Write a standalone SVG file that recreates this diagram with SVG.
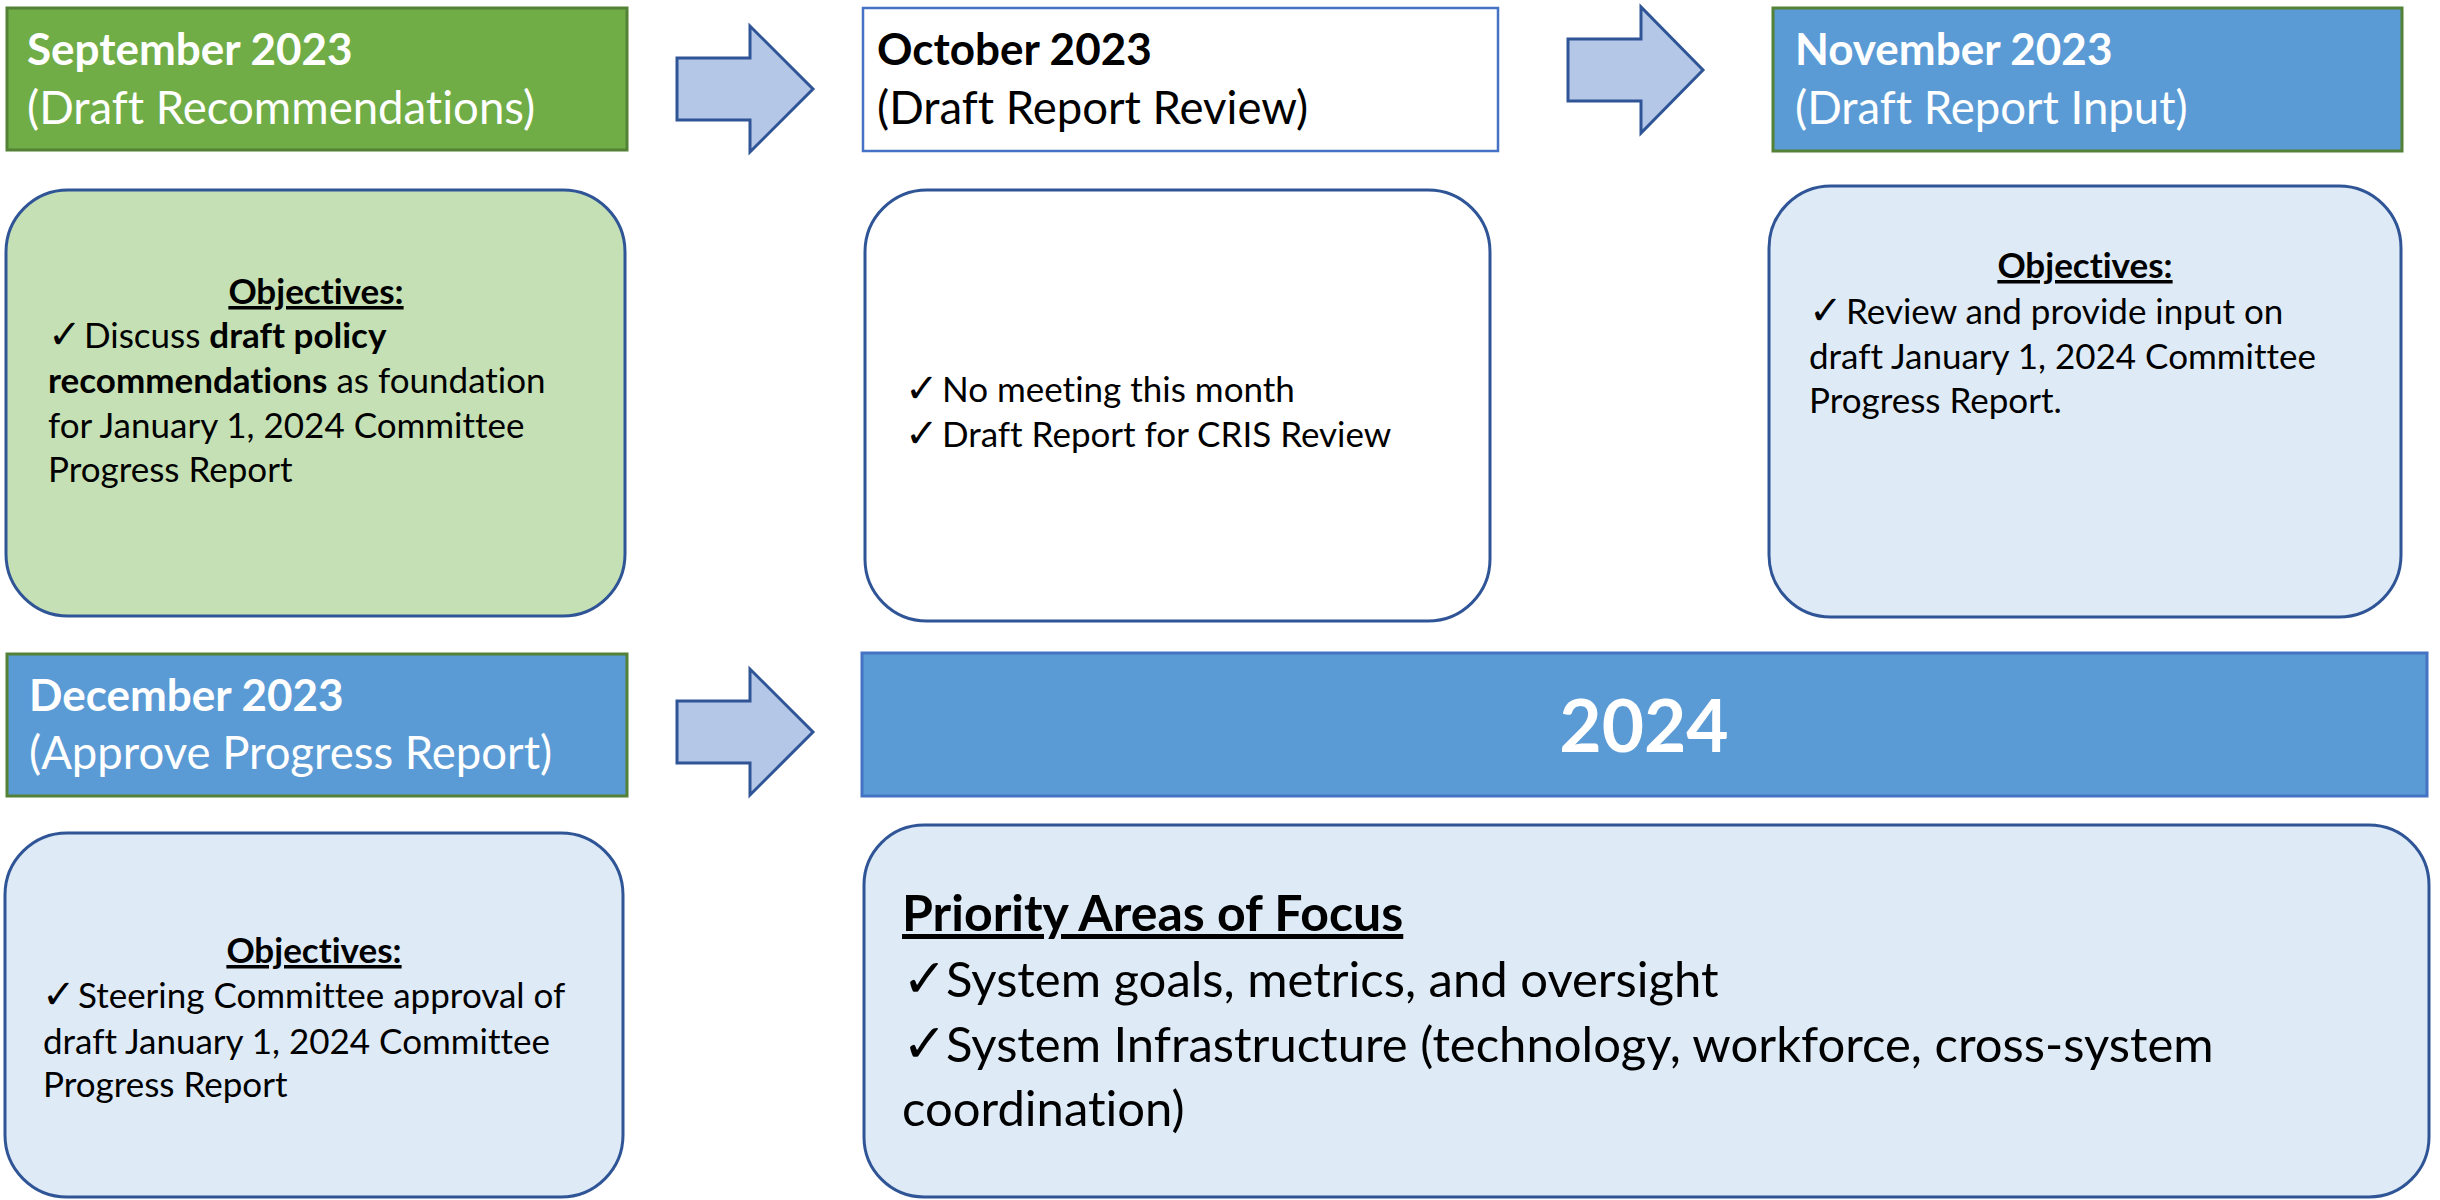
<svg xmlns="http://www.w3.org/2000/svg" width="2440" height="1200" viewBox="0 0 2440 1200">
<style>
  .t { font-family: Lato, "Open Sans", sans-serif; font-variant-ligatures: none; font-feature-settings: "liga" 0, "clig" 0; }
  .hd { font-size: 45.5px; fill: #ffffff; }
  .hdk { font-size: 45.5px; fill: #000000; }
  .b { font-weight: bold; }
  .hb { font-size: 44px; }
  .body { font-size: 35px; fill: #000000; }
  .obj { font-size: 35px; font-weight: bold; text-decoration: underline; fill: #000000; }
  .ck { font-family: "DejaVu Sans", sans-serif; font-size: 40px; }
  .ckl { font-family: "DejaVu Sans", sans-serif; font-size: 54px; }
  .greenhd { fill: #70AD47; stroke: #538135; stroke-width: 3; }
  .bluehd { fill: #5B9BD5; stroke: #538135; stroke-width: 3; }
  .whitehd { fill: #ffffff; stroke: #4472C4; stroke-width: 2.5; }
  .yearhd { fill: #5B9BD5; stroke: #4472C4; stroke-width: 3; }
  .card { stroke: #2F5597; stroke-width: 3; }
  .arrow { fill: #B4C7E7; stroke: #2F5597; stroke-width: 3; stroke-linejoin: miter; }
</style>

<g id="connectors">
  <path class="arrow" d="M677,58 L750,58 L750,26 L813,89 L750,152 L750,120 L677,120 Z"/>
  <path class="arrow" d="M1568,39 L1641,39 L1641,7 L1703,70 L1641,133 L1641,101 L1568,101 Z"/>
  <path class="arrow" d="M677,701 L750,701 L750,669 L813,732 L750,795 L750,763 L677,763 Z"/>
</g>

<g id="sep-header">
  <rect class="greenhd" x="7" y="8" width="620" height="142"/>
  <text class="t hd b hb" x="27" y="65">September 2023</text>
  <text class="t hd" x="27" y="124">(Draft Recommendations)</text>
</g>

<g id="oct-header">
  <rect class="whitehd" x="863" y="8" width="635" height="143"/>
  <text class="t hdk b hb" x="877" y="65">October 2023</text>
  <text class="t hdk" x="877" y="124">(Draft Report Review)</text>
</g>

<g id="nov-header">
  <rect class="bluehd" x="1773" y="8" width="629" height="143"/>
  <text class="t hd b hb" x="1795" y="65">November 2023</text>
  <text class="t hd" x="1795" y="124">(Draft Report Input)</text>
</g>

<g id="sep-body">
  <rect class="card" x="6" y="190" width="619" height="426" rx="62" ry="62" fill="#C5E0B4"/>
  <text class="t obj" x="316" y="304" text-anchor="middle">Objectives:</text>
  <text class="t body" y="348"><tspan class="ck" x="48">✓</tspan><tspan x="84">Discuss </tspan><tspan class="b">draft policy</tspan></text>
  <text class="t body" x="48" y="393"><tspan class="b">recommendations</tspan> as foundation</text>
  <text class="t body" x="48" y="438">for January 1, 2024 Committee</text>
  <text class="t body" x="48" y="482">Progress Report</text>
</g>

<g id="oct-body">
  <rect class="card" x="865" y="190" width="625" height="431" rx="62" ry="62" fill="#ffffff"/>
  <text class="t body" y="402"><tspan class="ck" x="905">✓</tspan><tspan x="942">No meeting this month</tspan></text>
  <text class="t body" y="447"><tspan class="ck" x="905">✓</tspan><tspan x="942">Draft Report for CRIS Review</tspan></text>
</g>

<g id="nov-body">
  <rect class="card" x="1769" y="186" width="632" height="431" rx="62" ry="62" fill="#DEEBF7"/>
  <text class="t obj" x="2085" y="278" text-anchor="middle">Objectives:</text>
  <text class="t body" y="324"><tspan class="ck" x="1809">✓</tspan><tspan x="1846">Review and provide input on</tspan></text>
  <text class="t body" x="1809" y="369">draft January 1, 2024 Committee</text>
  <text class="t body" x="1809" y="413">Progress Report.</text>
</g>

<g id="dec-header">
  <rect class="bluehd" x="7" y="654" width="620" height="142"/>
  <text class="t hd b hb" x="29" y="711">December 2023</text>
  <text class="t hd" x="29" y="769">(Approve Progress Report)</text>
</g>

<g id="dec-body">
  <rect class="card" x="5" y="833" width="618" height="364" rx="62" ry="62" fill="#DEEBF7"/>
  <text class="t obj" x="314" y="963" text-anchor="middle">Objectives:</text>
  <text class="t body" y="1008"><tspan class="ck" x="42">✓</tspan><tspan x="78">Steering Committee approval of</tspan></text>
  <text class="t body" x="43" y="1054">draft January 1, 2024 Committee</text>
  <text class="t body" x="43" y="1097">Progress Report</text>
</g>

<g id="year-header">
  <rect class="yearhd" x="862" y="653" width="1565" height="143"/>
  <text class="t b" x="1644" y="752" text-anchor="middle" font-size="73" fill="#ffffff">2024</text>
</g>

<g id="priority-body">
  <rect class="card" x="864" y="825" width="1565" height="372" rx="60" ry="60" fill="#DEEBF7"/>
  <text class="t b" x="902" y="931" font-size="50" fill="#000000" text-decoration="underline">Priority Areas of Focus</text>
  <text class="t" y="997" font-size="49" fill="#000000"><tspan class="ckl" x="902">✓</tspan><tspan x="946">System goals, metrics, and oversight</tspan></text>
  <text class="t" y="1062" font-size="49" fill="#000000"><tspan class="ckl" x="902">✓</tspan><tspan x="946">System Infrastructure (technology, workforce, cross-system</tspan></text>
  <text class="t" x="902" y="1126" font-size="49" fill="#000000">coordination)</text>
</g>
</svg>
